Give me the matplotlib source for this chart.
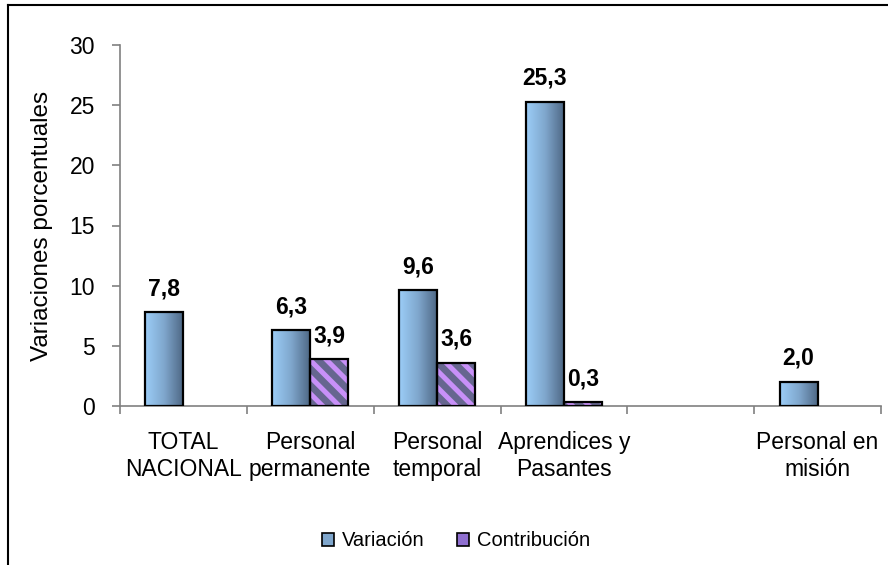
import numpy as np
import matplotlib
matplotlib.use("Agg")
import matplotlib.pyplot as plt
from matplotlib.patches import Patch
from matplotlib.lines import Line2D
from matplotlib.colors import LinearSegmentedColormap

categories = ["TOTAL\nNACIONAL", "Personal\npermanente", "Personal\ntemporal",
              "Aprendices y\nPasantes", "", "Personal en\nmisión"]
variacion = [7.8, 6.3, 9.6, 25.3, np.nan, 2.0]
contribucion = [np.nan, 3.9, 3.6, 0.3, np.nan, np.nan]
yticks = [0, 5, 10, 15, 20, 25, 30]

plt.rcParams['font.family'] = ['Liberation Sans', 'DejaVu Sans']
plt.rcParams['hatch.linewidth'] = 3.6

FS = 16.5

fig = plt.figure(figsize=(8.88, 5.65), dpi=100)
ax = fig.add_axes([120/888, 1-406/565, (881-120)/888, (406-45)/565])

x = np.arange(len(categories))
w = 0.3
grad_cmap = LinearSegmentedColormap.from_list("g", ["#9CCDF8", "#7FA6CC", "#4C6582"])
grad = np.linspace(0, 1, 256).reshape(1, -1)

for xi, v in zip(x, variacion):
    if np.isnan(v):
        continue
    b = ax.bar(xi - w/2, v, width=w, facecolor='none', edgecolor='black',
               linewidth=1.6, zorder=3)[0]
    im = ax.imshow(grad, cmap=grad_cmap, aspect='auto',
                   extent=[xi - w, xi, 0, v], zorder=2, interpolation='bilinear')
    im.set_clip_path(b)
    ax.text(xi - w/2, v + 1.0, f"{v:.1f}".replace('.', ','), ha='center', va='bottom',
            fontsize=FS, fontweight='bold')

for xi, c in zip(x, contribucion):
    if np.isnan(c):
        continue
    ax.bar(xi + w/2, c, width=w, facecolor='#66668F', edgecolor='#C890F8',
           linewidth=0, hatch='\\\\', zorder=2)
    ax.bar(xi + w/2, c, width=w, facecolor='none', edgecolor='black',
           linewidth=1.6, zorder=3)
    ax.text(xi + w/2, c + 1.0, f"{c:.1f}".replace('.', ','), ha='center', va='bottom',
            fontsize=FS, fontweight='bold')

ax.set_xlim(-0.5, len(categories) - 0.5)
ax.set_ylim(0, 30)
ax.set_yticks(yticks)
ax.set_yticklabels([str(t) for t in yticks])
ax.set_xticks(x)
ax.set_xticklabels(categories, fontsize=FS)
ax.set_xticks(np.arange(-0.5, len(categories)), minor=True)
ax.tick_params(axis='x', which='major', length=0, pad=18)
ax.tick_params(axis='x', which='minor', length=6, direction='out', color='#808080', width=1.2)
ax.tick_params(axis='y', length=6, direction='out', color='#808080', width=1.2,
               labelsize=FS, pad=12)
ax.set_ylabel("Variaciones porcentuales", fontsize=17.5, labelpad=12)

for s in ['top', 'right']:
    ax.spines[s].set_visible(False)
for s in ['left', 'bottom']:
    ax.spines[s].set_color('#808080')
    ax.spines[s].set_linewidth(1.2)

handles = [Patch(facecolor='#7FA6CC', edgecolor='black', linewidth=1.2),
           Patch(facecolor='#8F6FD0', edgecolor='black', linewidth=1.2)]
fig.legend(handles, ["Variación", "Contribución"], loc='center',
           bbox_to_anchor=(456/888, 1-541/565), ncol=2, frameon=False,
           fontsize=14.5, handlelength=0.6, handleheight=0.6, handletextpad=0.4,
           columnspacing=1.6)

fig.add_artist(Line2D([8/888, 1.0], [1-5/565, 1-5/565], transform=fig.transFigure,
                      color='black', linewidth=1.5))
fig.add_artist(Line2D([8/888, 8/888], [0.0, 1-5/565], transform=fig.transFigure,
                      color='black', linewidth=1.5))

fig.savefig("out.png", dpi=100)
